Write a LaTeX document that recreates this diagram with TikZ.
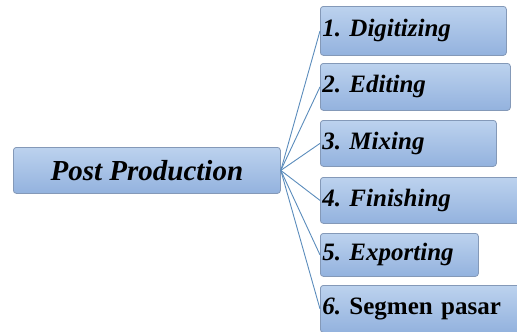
\documentclass[tikz,border=0pt]{standalone}
\usepackage{fontspec}
\setmainfont{Liberation Serif}
\definecolor{boxtop}{HTML}{BCD2EE}
\definecolor{boxbot}{HTML}{93B2DE}
\definecolor{boxline}{HTML}{8499B8}
\definecolor{link}{HTML}{5B8CBC}
\begin{document}
\frenchspacing
\begin{tikzpicture}[x=1pt,y=-1pt,
    box/.style={draw=boxline,line width=0.8pt,rounded corners=3pt,
      top color=boxtop,bottom color=boxbot},
    step box/.style={box,anchor=north west,inner xsep=2pt,inner ysep=0pt,
      align=left,font=\fontsize{25}{27}\selectfont\bfseries\itshape},
    link/.style={draw=link,line width=0.9pt}]
  \useasboundingbox (0,0) rectangle (517,332);
  \node[box,anchor=north west,minimum width=267pt,minimum height=46pt,
    font=\fontsize{29}{31}\selectfont\bfseries\itshape] (post) at (13,147) {Post Production};
  \node[step box,text width=182pt,minimum height=49pt] (s1) at (320,6) {1. Digitizing};
  \node[step box,text width=186pt,minimum height=47pt] (s2) at (320,63) {2. Editing};
  \node[step box,text width=172pt,minimum height=46pt] (s3) at (320,120) {3. Mixing};
  \node[step box,text width=200pt,minimum height=46pt] (s4) at (320,177) {4. Finishing};
  \node[step box,text width=154pt,minimum height=43pt] (s5) at (320,233) {5. Exporting};
  \node[step box,text width=200pt,minimum height=47pt] (s6) at (320,285) {{\itshape 6.} \upshape Segmen pasar};
  \foreach \i in {1,...,6}
    \draw[link] (post.east) -- (s\i.west);
\end{tikzpicture}
\end{document}
